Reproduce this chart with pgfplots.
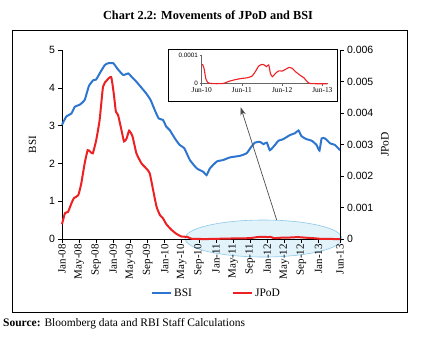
\documentclass[border=0pt]{standalone}
\usepackage{pgfplots}
\usepackage{pgfplotstable}
\pgfplotsset{compat=1.18}
\usepackage{fontspec}
\setmainfont{Liberation Serif}
\newfontfamily\tickfont{Liberation Sans}
\usetikzlibrary{arrows.meta}
\definecolor{bsiblue}{RGB}{46,117,207}
\definecolor{jpodred}{RGB}{237,32,36}
\definecolor{ellfill}{RGB}{226,243,250}
\definecolor{elldraw}{RGB}{140,200,235}

\pgfplotstableread{
m v
0 3.02
1 3.24
2.2 3.32
3 3.5
4.1 3.55
5.3 3.68
6.3 4.05
7.3 4.2
8 4.22
8.8 4.38
10 4.6
10.8 4.65
12 4.65
13 4.5
14.3 4.34
15.5 4.38
16.2 4.3
17.4 4.16
18.6 4.0
19.7 3.85
20.7 3.68
21.7 3.41
22.6 3.19
23.6 3.15
24.4 2.97
25.2 2.88
26.4 2.66
27.5 2.49
28.6 2.4
29.9 2.09
31.5 1.87
33 1.78
33.8 1.69
34.6 1.87
36.2 2.05
37.7 2.09
39.3 2.16
41.6 2.2
43.2 2.27
44 2.40
45.1 2.55
46.3 2.57
47.1 2.51
47.9 2.55
48.6 2.35
49.8 2.49
50.6 2.6
51.7 2.64
53.3 2.75
54.5 2.8
55.3 2.87
56 2.72
57.2 2.64
58.4 2.6
59.5 2.49
60.2 2.34
60.7 2.66
61.5 2.66
62.7 2.53
63.8 2.49
65 2.35
}\bsidata

\pgfplotstableread{
m p
0 0.00047
0.7 0.00082
1.4 0.00086
2.2 0.00113
2.8 0.00130
3.8 0.00139
4.5 0.00176
5.3 0.00240
6.0 0.00282
6.6 0.00277
7.2 0.00272
8 0.00314
8.8 0.00378
9.6 0.00484
10.5 0.00504
11.5 0.00514
12.1 0.00462
12.6 0.00404
13.1 0.00394
13.9 0.00346
14.5 0.00310
15.1 0.00319
15.7 0.00344
16.5 0.00325
17.4 0.00272
18.6 0.00240
19.7 0.00224
20.5 0.00209
21.3 0.00156
22.1 0.00103
22.9 0.00076
23.6 0.00066
24.4 0.00047
25.6 0.00029
26.8 0.00016
27.9 0.00008
29 0.000070
29.5 0.000055
30 0.000019
30.5 0.000006
31.3 0.000001
33.3 0
35.3 0.000001
36.8 0.000008
38.3 0.000013
40.3 0.000018
42.3 0.000021
43.8 0.000027
44.8 0.000043
45.8 0.000063
46.8 0.000069
47.5 0.000067
48.1 0.000061
48.8 0.000067
49.3 0.000037
49.9 0.000025
50.8 0.000037
51.8 0.000046
52.8 0.000045
53.8 0.000051
54.8 0.000058
55.8 0.000055
56.8 0.000043
58.3 0.000029
59.3 0.000021
60.3 0.000007
61 0.000001
65 0
}\jpoddata

% inset: JPoD in units of 0.0001
\pgfplotstableread{
m p
29.2 0.70
29.7 0.55
30.2 0.19
30.7 0.06
31.5 0.01
33.5 0
35.5 0.01
37 0.08
38.5 0.13
40.5 0.18
42.5 0.21
44 0.27
45 0.43
46 0.63
47 0.69
47.7 0.67
48.3 0.61
49 0.67
49.5 0.37
50.1 0.25
51 0.37
52 0.46
53 0.45
54 0.51
55 0.58
56 0.55
57 0.43
58.5 0.29
59.5 0.21
60.5 0.07
61.2 0.01
63 0
66.5 0
}\insetdata

\begin{document}
\begin{tikzpicture}
\path (0pt,0pt) rectangle (423pt,-341pt);
\node[font=\bfseries\fontsize{12.3}{14}\selectfont] at (208pt,-15pt) {Chart 2.2: Movements of JPoD and BSI};
\draw[line width=0.8pt] (12pt,-30pt) rectangle (407pt,-312pt);
\node[anchor=west, font=\fontsize{11.5}{13}\selectfont, inner sep=0pt] at (3pt,-324pt) {\textbf{Source:} Bloomberg data and RBI Staff Calculations};
\draw[fill=ellfill, draw=elldraw, line width=0.6pt] (263.5pt,-238.5pt) ellipse [x radius=78.5pt, y radius=18.5pt];

\begin{axis}[
  at={(62pt,-239pt)}, anchor=south west,
  scale only axis, width=278pt, height=189pt,
  xmin=0, xmax=65, ymin=0, ymax=5,
  axis x line*=bottom, axis y line*=left,
  xtick pos=bottom, ytick pos=left,
  tick align=outside, major tick length=3.5pt,
  axis line style={line width=0.6pt},
  every tick/.style={black, line width=0.6pt},
  xtick={0,4,8,12,16,20,24,28,32,36,40,44,48,52,56,60,65},
  xticklabels={Jan-08,May-08,Sep-08,Jan-09,May-09,Sep-09,Jan-10,May-10,Sep-10,Jan-11,May-11,Sep-11,Jan-12,May-12,Sep-12,Jan-13,Jun-13},
  xticklabel style={rotate=90, anchor=east, font=\fontsize{11}{11}\selectfont, inner sep=1.5pt},
  ytick={0,1,2,3,4,5},
  yticklabel style={font=\tickfont\fontsize{10.5}{10.5}\selectfont},
  /pgf/number format/assume math mode=true,
  ylabel={BSI},
  ylabel style={at={(axis description cs:-0.106,0.5)}, anchor=center, font=\fontsize{11}{12}\selectfont},
  clip=false,
]
\addplot[bsiblue, line width=2pt, smooth, tension=0.3] table[x=m, y=v] {\bsidata};
\end{axis}

\begin{axis}[
  at={(62pt,-239pt)}, anchor=south west,
  scale only axis, width=278pt, height=189pt,
  xmin=0, xmax=65, ymin=0, ymax=0.006,
  hide x axis,
  axis y line*=right, ytick pos=right,
  tick align=outside, major tick length=3.5pt,
  axis line style={line width=0.6pt},
  every tick/.style={black, line width=0.6pt},
  scaled y ticks=false,
  ytick={0,0.001,0.002,0.003,0.004,0.005,0.006},
  yticklabels={0,0.001,0.002,0.003,0.004,0.005,0.006},
  yticklabel style={font=\tickfont\fontsize{10.5}{10.5}\selectfont},
  ylabel={JPoD},
  ylabel style={at={(axis description cs:1.162,0.5)}, anchor=center, rotate=0, font=\fontsize{11.5}{12}\selectfont},
  legend style={draw=none, fill=none, at={(axis description cs:0.556,-0.286)}, anchor=center,
    font=\fontsize{11.5}{12}\selectfont, legend columns=2,
    /tikz/every even column/.append style={column sep=38pt}},
  legend image code/.code={\draw[#1, line width=2pt] (0pt,0pt) -- (19pt,0pt);},
  clip=false,
]
\addlegendimage{bsiblue}
\addplot[jpodred, line width=2pt, smooth, tension=0.3] table[x=m, y=p] {\jpoddata};
\legend{BSI, JPoD}
\end{axis}

\draw[draw=black!70, line width=0.7pt, -{Stealth[length=8pt, width=5.5pt]}] (276.7pt,-220pt) -- (240.7pt,-107.3pt);

\draw[line width=0.8pt, fill=white] (168pt,-49pt) rectangle (337pt,-101pt);
\begin{axis}[
  at={(201.7pt,-83.7pt)}, anchor=south west,
  scale only axis, width=126pt, height=28pt,
  xmin=29, xmax=66.6, ymin=0, ymax=1,
  axis x line*=bottom, axis y line*=left,
  xtick pos=bottom, ytick pos=left,
  tick align=outside, major tick length=2pt,
  axis line style={black!60, line width=0.6pt},
  every tick/.style={black!60, line width=0.5pt},
  xtick={29,41,53,65},
  xticklabels={Jun-10,Jun-11,Jun-12,Jun-13},
  xticklabel style={font=\fontsize{7.4}{8}\selectfont, inner sep=1.5pt},
  ytick={0,1},
  yticklabels={0,0.0001},
  yticklabel style={font=\tickfont\fontsize{6.3}{7}\selectfont, inner sep=1.5pt},
  clip=false,
]
\addplot[jpodred, line width=1.1pt, smooth, tension=0.3] table[x=m, y=p] {\insetdata};
\end{axis}
\end{tikzpicture}
\end{document}
